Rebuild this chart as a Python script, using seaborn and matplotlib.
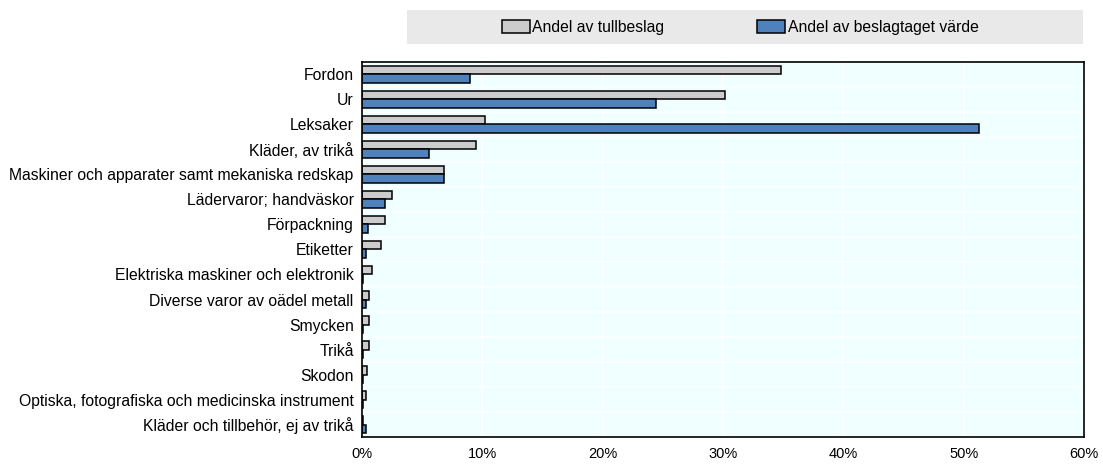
import pandas as pd
import numpy as np
import matplotlib
matplotlib.use("Agg")
import matplotlib.pyplot as plt
from matplotlib import font_manager
from matplotlib.patches import Rectangle
from matplotlib.ticker import FixedLocator, PercentFormatter
import seaborn as sns

## data (percent)
categories = ["Fordon", "Ur", "Leksaker", "Kläder, av trikå",
              "Maskiner och apparater samt mekaniska redskap",
              "Lädervaror; handväskor", "Förpackning", "Etiketter",
              "Elektriska maskiner och elektronik",
              "Diverse varor av oädel metall", "Smycken", "Trikå", "Skodon",
              "Optiska, fotografiska och medicinska instrument",
              "Kläder och tillbehör, ej av trikå"]
andel_beslag = [34.8, 30.2, 10.2, 9.5, 6.8, 2.5, 1.9, 1.6, 0.8, 0.6, 0.6, 0.6, 0.4, 0.3, 0.1]
andel_varde = [9.0, 24.4, 51.3, 5.6, 6.8, 1.9, 0.5, 0.3, 0.1, 0.3, 0.1, 0.1, 0.1, 0.05, 0.3]
series = ["Andel av tullbeslag", "Andel av beslagtaget värde"]
colors = ["#CCCCCC", "#4F81BD"]

df = pd.DataFrame({"Kategori": categories * 2,
                   "Serie": [series[0]] * len(categories) + [series[1]] * len(categories),
                   "Andel": andel_beslag + andel_varde})

sns.set_style("white")

# narrow font if there is one, otherwise regular sans sized to the same width
names = {f.name for f in font_manager.fontManager.ttflist}
if "Liberation Sans Narrow" in names:
    plt.rcParams['font.family'] = ['Liberation Sans Narrow', 'DejaVu Sans']
    fs_lab, fs_tick = 13.5, 12.5
else:
    plt.rcParams['font.family'] = ['Liberation Sans', 'DejaVu Sans']
    fs_lab, fs_tick = 11.3, 10.5
plt.rcParams['text.color'] = 'black'
plt.rcParams['xtick.color'] = 'black'
plt.rcParams['ytick.color'] = 'black'

fig = plt.figure(figsize=(11.03, 4.66), dpi=100)
ax = fig.add_axes([0.3282, 0.0622, 0.6546, 0.8048])
ax.set_facecolor("#F0FFFF")

sns.barplot(data=df, y="Kategori", x="Andel", hue="Serie", orient="h",
            palette=colors, order=categories, hue_order=series, saturation=1,
            edgecolor="black", linewidth=1.1, width=0.66, ax=ax, legend=True)

ax.set_xlim(0, 60)
ax.set_ylim(len(categories) - 0.5, -0.5)
ax.set_xticks(np.arange(0, 61, 10))
ax.xaxis.set_major_formatter(PercentFormatter(decimals=0))
ax.set_xlabel("")
ax.set_ylabel("")

# white grid, boundaries between categories
ax.grid(axis="x", color="white", linewidth=1.2)
ax.yaxis.set_minor_locator(FixedLocator(np.arange(-0.5, len(categories), 1)))
ax.grid(axis="y", which="minor", color="white", linewidth=1.2)
ax.set_axisbelow(True)

ax.tick_params(axis="y", which="major", length=0, pad=6, labelsize=fs_lab)
ax.tick_params(axis="y", which="minor", direction="in", length=6, width=1.2, color="black")
ax.tick_params(axis="x", direction="in", length=5, width=1, pad=7, labelsize=fs_tick)

for s in ax.spines.values():
    s.set_visible(True)
    s.set_color("black")
    s.set_linewidth(1.2)

# legend in a grey band on top
ax.get_legend().remove()
fig.patches.append(Rectangle((0.369, 0.9056), 0.613, 0.073, transform=fig.transFigure,
                             facecolor="#E9E9E9", edgecolor="none", zorder=0))
handles = [Rectangle((0, 0), 1, 1, facecolor=c, edgecolor="black", linewidth=1.1) for c in colors]
fig.legend(handles, series, loc="center", bbox_to_anchor=(0.671, 0.942), ncol=2,
           frameon=False, fontsize=fs_lab, handlelength=1.8, handleheight=0.9,
           handletextpad=0.15, columnspacing=5.9)

plt.savefig("out.png", dpi=100)
